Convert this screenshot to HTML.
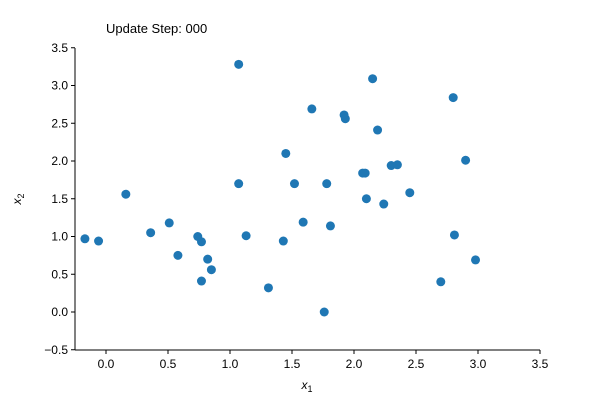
<!DOCTYPE html>
<html><head><meta charset="utf-8"><style>
body{margin:0;background:#fff}
svg{font-family:"Liberation Sans","DejaVu Sans",sans-serif}
</style></head><body>
<svg id="c" width="600" height="400">
<text x="106" y="33" font-size="13">Update Step: 000</text>
<g id="axes"></g><g id="pts"></g>
<text x="307" y="389" font-size="12" text-anchor="middle"><tspan font-style="italic">x</tspan><tspan font-size="9" dy="3">1</tspan></text>
<text transform="translate(21,199) rotate(-90)" font-size="12" text-anchor="middle"><tspan font-style="italic">x</tspan><tspan font-size="9" dy="3">2</tspan></text>
</svg>
<script>
const xs=[-0.17,-0.06,0.16,0.36,0.51,0.58,0.74,0.77,0.77,0.82,0.85,1.07,1.07,1.13,1.31,1.43,1.45,1.52,1.59,1.66,1.76,1.78,1.81,1.92,1.93,2.07,2.09,2.10,2.15,2.19,2.24,2.30,2.35,2.45,2.70,2.80,2.81,2.90,2.98];
const ys=[0.97,0.94,1.56,1.05,1.18,0.75,1.00,0.93,0.41,0.70,0.56,3.28,1.70,1.01,0.32,0.94,2.10,1.70,1.19,2.69,0.00,1.70,1.14,2.61,2.56,1.84,1.84,1.50,3.09,2.41,1.43,1.94,1.95,1.58,0.40,2.84,1.02,2.01,0.69];
const xTicks=["0.0","0.5","1.0","1.5","2.0","2.5","3.0","3.5"];
const yTicks=["−0.5","0.0","0.5","1.0","1.5","2.0","2.5","3.0","3.5"];
const X=v=>106+v*124, Y=v=>312-v*75.5;
const NS="http://www.w3.org/2000/svg";
const ax=document.getElementById('axes'), pg=document.getElementById('pts');
function mk(t,a,p){const e=document.createElementNS(NS,t);for(const k in a)e.setAttribute(k,a[k]);p.appendChild(e);return e;}
let l=mk('line',{x1:75,y1:350,x2:540,y2:350,stroke:'#000','stroke-width':1},ax);


l=mk('line',{x1:75,y1:48,x2:75,y2:350,stroke:'#000','stroke-width':1},ax);


xTicks.forEach(t=>{const v=parseFloat(t),x=X(v);
 mk('line',{x1:x,y1:350,x2:x,y2:354,stroke:'#000'},ax);
 const e=mk('text',{x:x,y:368,'font-size':12,'text-anchor':'middle'},ax);e.textContent=t;
 
 });
yTicks.forEach(t=>{const v=parseFloat(t.replace('−','-')),y=Y(v);
 mk('line',{x1:71,y1:y,x2:75,y2:y,stroke:'#000'},ax);
 const e=mk('text',{x:68,y:y+4,'font-size':12,'text-anchor':'end'},ax);e.textContent=t;
 
 });
xs.forEach((v,i)=>{const c=mk('circle',{cx:X(v),cy:Y(ys[i]),r:4.5,fill:'#1f77b4'},pg);
 
 });
</script>
</body></html>
